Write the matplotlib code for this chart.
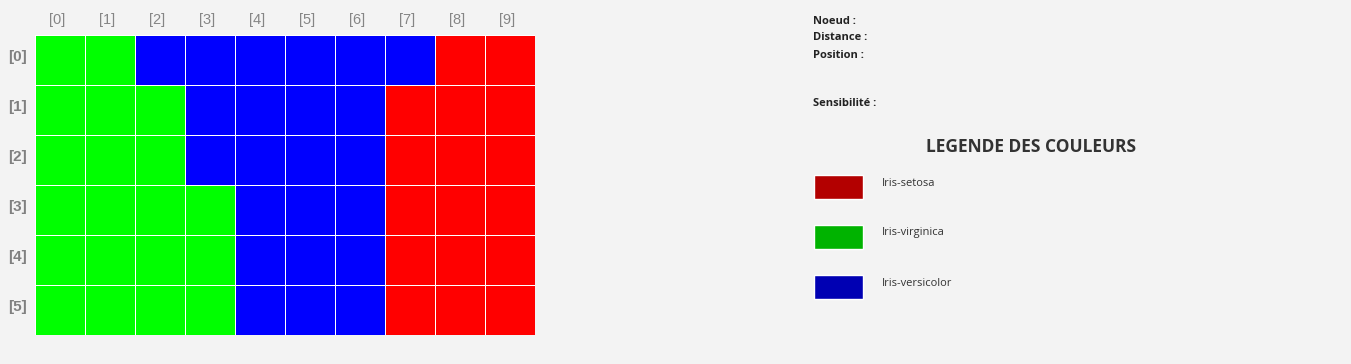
import matplotlib

matplotlib.use("Agg")
import matplotlib.pyplot as plt
import numpy as np
from matplotlib.colors import ListedColormap
from matplotlib.patches import Rectangle

# 0 = Iris-virginica (green), 1 = Iris-versicolor (blue), 2 = Iris-setosa (red)
GRID = [
    [0, 0, 1, 1, 1, 1, 1, 1, 2, 2],
    [0, 0, 0, 1, 1, 1, 1, 2, 2, 2],
    [0, 0, 0, 1, 1, 1, 1, 2, 2, 2],
    [0, 0, 0, 0, 1, 1, 1, 2, 2, 2],
    [0, 0, 0, 0, 1, 1, 1, 2, 2, 2],
    [0, 0, 0, 0, 1, 1, 1, 2, 2, 2],
]
CELL_COLORS = ["#00ff00", "#0000ff", "#ff0000"]
COL_LABELS = [f"[{i}]" for i in range(10)]
ROW_LABELS = [f"[{i}]" for i in range(6)]

INFO_LABELS = ["Noeud :", "Distance :", "Position :"]
SENS_LABEL = "Sensibilité :"
LEGEND_TITLE = "LEGENDE DES COULEURS"
LEGEND_NAMES = ["Iris-setosa", "Iris-virginica", "Iris-versicolor"]
LEGEND_COLORS = ["#b30000", "#00b300", "#0000b3"]

W, H = 1351, 364
BG = "#f3f3f3"

plt.rcParams["font.family"] = ["Open Sans", "DejaVu Sans"]

fig = plt.figure(figsize=(W / 100, H / 100), dpi=100, facecolor=BG)

# grid axes, placed in pixel units
ax = fig.add_axes([35 / W, (H - 335) / H, 500 / W, 300 / H])
data = np.array(GRID)
ax.pcolormesh(data, cmap=ListedColormap(CELL_COLORS), vmin=-0.5, vmax=2.5,
              edgecolors="white", linewidth=0.4)
ax.set_xlim(0, data.shape[1])
ax.set_ylim(data.shape[0], 0)
ax.set_xticks(np.arange(data.shape[1]) + 0.45)
ax.set_xticklabels(COL_LABELS, family=["Liberation Sans", "DejaVu Sans"],
                   fontsize=10.5, color="#858585")
# row labels sit a little above the cell centre in the reference
ax.set_yticks(np.arange(data.shape[0]) + 0.4)
ax.set_yticklabels(ROW_LABELS, family=["Liberation Sans", "DejaVu Sans"],
                   fontsize=11, fontweight="bold", color="#808080")
ax.xaxis.tick_top()
ax.tick_params(length=0)
ax.tick_params(axis="x", pad=5.5)
ax.tick_params(axis="y", pad=6)
for s in ax.spines.values():
    s.set_visible(False)

# overlay in pixel coordinates for the side panel
ov = fig.add_axes([0, 0, 1, 1], facecolor="none")
ov.set_xlim(0, W)
ov.set_ylim(H, 0)
ov.axis("off")

for i, t in enumerate(INFO_LABELS):
    ov.text(813, 21 + i * 17, t, fontsize=8, fontweight="bold", color="#222222",
            va="center", ha="left")
ov.text(813, 104, SENS_LABEL, fontsize=8, fontweight="bold", color="#222222",
        va="center", ha="left")

ov.text(1031, 147, LEGEND_TITLE, fontsize=12.5, fontweight="bold", color="#333333",
        va="center", ha="center")

for i, (name, col) in enumerate(zip(LEGEND_NAMES, LEGEND_COLORS)):
    y0 = 175 + i * 50
    ov.add_patch(Rectangle((814, y0), 49, 24, facecolor=col, edgecolor="white",
                           linewidth=1))
    ov.text(882, y0 + 8, name, fontsize=8, color="#333333", va="center", ha="left")

fig.savefig("out.png", dpi=100, facecolor=BG)
